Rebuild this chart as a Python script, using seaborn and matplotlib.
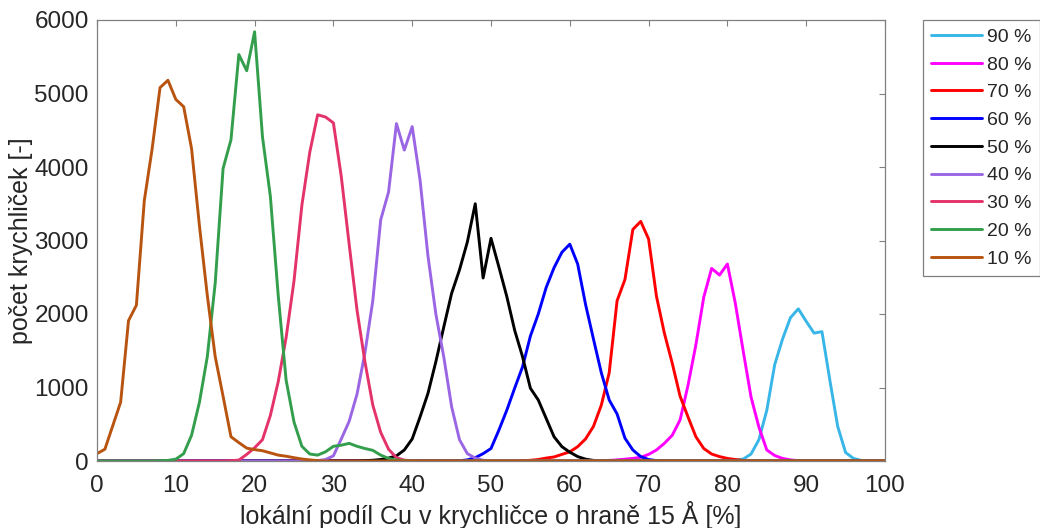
import numpy as np
import pandas as pd
import matplotlib
matplotlib.use("Agg")
import matplotlib.pyplot as plt
import seaborn as sns

# Local Cu fraction bins (0..100 %), one value per bin
podil = list(range(101))

# Cube counts per bin for each nominal composition; each series lists its
# non-zero stretch starting at the given bin, all other bins are zero.
start_10, pocet_10 = 0, [100, 160, 480, 800, 1910, 2120, 3540, 4250, 5080, 5180,
                         4920, 4820, 4250, 3200, 2250, 1420, 880, 330, 250, 175,
                         155, 140, 110, 80, 65, 45, 27, 15, 5]
start_20, pocet_20 = 8, [3, 8, 25, 100, 350, 800, 1420, 2420, 3980, 4370,
                         5530, 5310, 5840, 4410, 3600, 2250, 1100, 530, 200, 95,
                         80, 125, 200, 215, 240, 200, 170, 145, 80, 35, 12, 4]
start_30, pocet_30 = 17, [4, 12, 90, 180, 290, 620, 1080, 1680, 2450, 3480,
                          4200, 4710, 4680, 4600, 3870, 2950, 2050, 1350, 760, 390,
                          160, 45, 12, 3]
start_40, pocet_40 = 28, [5, 20, 70, 300, 540, 910, 1470, 2180, 3280, 3660,
                          4590, 4230, 4550, 3820, 2790, 2000, 1420, 740, 290, 100,
                          40, 10]
start_50, pocet_50 = 34, [5, 10, 20, 40, 70, 150, 300, 600, 920, 1350,
                          1820, 2280, 2600, 2980, 3500, 2490, 3030, 2640, 2240, 1780,
                          1420, 990, 830, 580, 330, 195, 120, 60, 25, 8, 3]
start_60, pocet_60 = 46, [3, 15, 45, 100, 170, 420, 690, 990, 1280, 1700,
                          2000, 2360, 2630, 2840, 2950, 2680, 2130, 1660, 1200, 830,
                          640, 310, 150, 60, 20, 5]
start_70, pocet_70 = 54, [3, 10, 20, 40, 55, 90, 125, 195, 300, 470,
                          760, 1200, 2180, 2470, 3150, 3260, 3020, 2240, 1740, 1330,
                          880, 600, 330, 170, 95, 60, 35, 20, 8, 3]
start_80, pocet_80 = 64, [3, 8, 15, 25, 35, 50, 90, 150, 240, 350,
                          560, 1030, 1580, 2230, 2620, 2530, 2680, 2150, 1500, 870,
                          460, 150, 75, 35, 15, 5]
start_90, pocet_90 = 78, [3, 5, 8, 12, 25, 95, 290, 690, 1310, 1660,
                          1950, 2070, 1900, 1740, 1760, 1100, 470, 115, 35, 8, 2]

nazvy = ["90 %", "80 %", "70 %", "60 %", "50 %", "40 %", "30 %", "20 %", "10 %"]
barvy = ["#38b6e8", "#ff00ff", "#ff0000", "#0000ff", "#000000",
         "#9a66e4", "#e3336a", "#339e4c", "#b85410"]

serie = {
    "90 %": (start_90, pocet_90),
    "80 %": (start_80, pocet_80),
    "70 %": (start_70, pocet_70),
    "60 %": (start_60, pocet_60),
    "50 %": (start_50, pocet_50),
    "40 %": (start_40, pocet_40),
    "30 %": (start_30, pocet_30),
    "20 %": (start_20, pocet_20),
    "10 %": (start_10, pocet_10),
}

rows = []
for name, (start, vals) in serie.items():
    full = [0] * len(podil)
    full[start:start + len(vals)] = vals
    for x, y in zip(podil, full):
        rows.append({"podil": x, "pocet": y, "slozeni": name})
df = pd.DataFrame(rows)

sns.set_theme(style="white")
plt.rcParams["font.family"] = ["Liberation Sans", "DejaVu Sans"]

fig = plt.figure(figsize=(10.4, 5.28), dpi=100)
ax = fig.add_axes([97 / 1040, 1 - 461 / 528, 788 / 1040, 441 / 528])

sns.lineplot(data=df, x="podil", y="pocet", hue="slozeni", hue_order=nazvy,
             palette=barvy, linewidth=2.1, ax=ax, estimator=None, sort=True)

ax.set_xlim(0, 100)
ax.set_ylim(0, 6000)
ax.set_xticks(range(0, 101, 10))
ax.set_yticks(range(0, 6001, 1000))

ax.tick_params(direction="in", length=4, width=0.8, top=True, right=True,
               color="#808080", labelcolor="#262626", labelsize=17.5)
ax.tick_params(axis="x", pad=10)
ax.tick_params(axis="y", pad=6)
for sp in ax.spines.values():
    sp.set_visible(True)
    sp.set_color("#808080")
    sp.set_linewidth(0.9)

ax.set_xlabel("lokální podíl Cu v krychličce o hraně 15 Å [%]", fontsize=18,
              color="#262626", labelpad=3)
ax.set_ylabel("počet krychliček [-]", fontsize=18, color="#262626", labelpad=1)

handles, labels = ax.get_legend_handles_labels()
leg = ax.legend(handles, labels, loc="upper left", bbox_to_anchor=(1.048, 1.0),
                fontsize=14, frameon=True, fancybox=False, framealpha=1,
                edgecolor="#808080", handlelength=2.62, handletextpad=0.26,
                labelspacing=0.52, borderpad=0.42, borderaxespad=0)
leg.get_frame().set_linewidth(0.9)
for t in leg.get_texts():
    t.set_color("#262626")
for line in leg.get_lines():
    line.set_linewidth(2.1)

fig.savefig("out.png", dpi=100)
